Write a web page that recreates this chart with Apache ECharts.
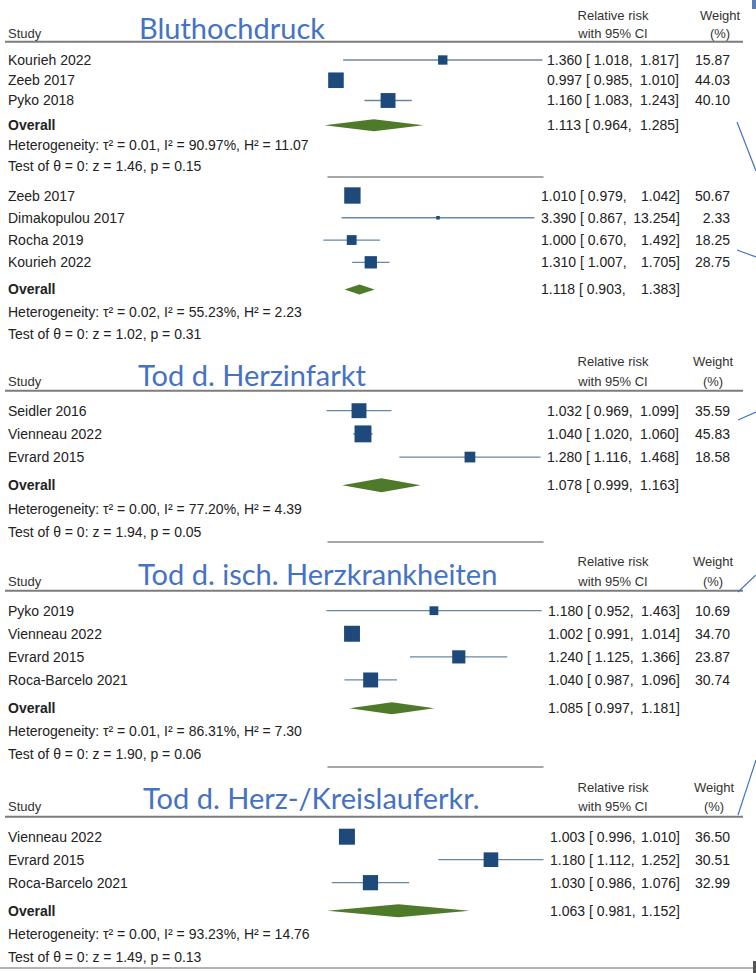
<!DOCTYPE html>
<html>
<head>
<meta charset="utf-8">
<script src="https://cdn.jsdelivr.net/npm/echarts@6/dist/echarts.min.js"></script>
<style>html,body{margin:0;padding:0;background:#fff}#c{width:756px;height:973px}</style>
</head>
<body>
<div id="c"></div>
<script>
// ---------------- DATA ----------------
const panelTitles = ['Bluthochdruck', 'Tod d. Herzinfarkt', 'Tod d. isch. Herzkrankheiten', 'Tod d. Herz-/Kreislauferkr.'];

// Bluthochdruck – first group
const bpAStudies = ['Kourieh 2022', 'Zeeb 2017', 'Pyko 2018'];
const bpARR      = [1.360, 0.997, 1.160];
const bpALow     = [1.018, 0.985, 1.083];
const bpAHigh    = [1.817, 1.010, 1.243];
const bpAWeight  = [15.87, 44.03, 40.10];
const bpAOverall = [1.113, 0.964, 1.285];
const bpAHet     = [0.01, 90.97, 11.07];   // tau², I², H²
const bpATest    = [1.46, 0.15];           // z, p

// Bluthochdruck – second group
const bpBStudies = ['Zeeb 2017', 'Dimakopulou 2017', 'Rocha 2019', 'Kourieh 2022'];
const bpBRR      = [1.010, 3.390, 1.000, 1.310];
const bpBLow     = [0.979, 0.867, 0.670, 1.007];
const bpBHigh    = [1.042, 13.254, 1.492, 1.705];
const bpBWeight  = [50.67, 2.33, 18.25, 28.75];
const bpBOverall = [1.118, 0.903, 1.383];
const bpBHet     = [0.02, 55.23, 2.23];
const bpBTest    = [1.02, 0.31];

// Tod d. Herzinfarkt
const miStudies = ['Seidler 2016', 'Vienneau 2022', 'Evrard 2015'];
const miRR      = [1.032, 1.040, 1.280];
const miLow     = [0.969, 1.020, 1.116];
const miHigh    = [1.099, 1.060, 1.468];
const miWeight  = [35.59, 45.83, 18.58];
const miOverall = [1.078, 0.999, 1.163];
const miHet     = [0.00, 77.20, 4.39];
const miTest    = [1.94, 0.05];

// Tod d. isch. Herzkrankheiten
const ihdStudies = ['Pyko 2019', 'Vienneau 2022', 'Evrard 2015', 'Roca-Barcelo 2021'];
const ihdRR      = [1.180, 1.002, 1.240, 1.040];
const ihdLow     = [0.952, 0.991, 1.125, 0.987];
const ihdHigh    = [1.463, 1.014, 1.366, 1.096];
const ihdWeight  = [10.69, 34.70, 23.87, 30.74];
const ihdOverall = [1.085, 0.997, 1.181];
const ihdHet     = [0.01, 86.31, 7.30];
const ihdTest    = [1.90, 0.06];

// Tod d. Herz-/Kreislauferkr.
const cvdStudies = ['Vienneau 2022', 'Evrard 2015', 'Roca-Barcelo 2021'];
const cvdRR      = [1.003, 1.180, 1.030];
const cvdLow     = [0.996, 1.112, 0.986];
const cvdHigh    = [1.010, 1.252, 1.076];
const cvdWeight  = [36.50, 30.51, 32.99];
const cvdOverall = [1.063, 0.981, 1.152];
const cvdHet     = [0.00, 93.23, 14.76];
const cvdTest    = [1.49, 0.13];

// ---------------- STYLE / LAYOUT ----------------
const TEXT = '#222222', MARK = '#1d4a7b', CI = '#6a87a2', DIAMOND = '#4e7a29', RULE = '#7c7c7c', BLUE = '#4472C4';
const FAM = '"Liberation Sans", Arial, Helvetica, sans-serif';

const panels = [
  { names: bpAStudies, rr: bpARR, lo: bpALow, hi: bpAHigh, w: bpAWeight, ov: bpAOverall, het: bpAHet, test: bpATest,
    L: { top: 60, bottom: 165.7, xMin: 0.9742, xMax: 1.8200, axisY: 177, font: 14, rrLeft: 547, hiRight: 679, wRight: 730, k: 2.35, dh: 12 } },
  { names: bpBStudies, rr: bpBRR, lo: bpBLow, hi: bpBHigh, w: bpBWeight, ov: bpBOverall, het: bpBHet, test: bpBTest,
    L: { top: 195.5, bottom: 334, xMin: 0.7152, xMax: 14.97, axisY: null, font: 14, rrLeft: 541, hiRight: 680, wRight: 730, k: 2.3, dh: 10 } },
  { names: miStudies, rr: miRR, lo: miLow, hi: miHigh, w: miWeight, ov: miOverall, het: miHet, test: miTest,
    L: { top: 410.7, bottom: 531.7, xMin: 0.9717, xMax: 1.4751, axisY: 541.7, font: 14, rrLeft: 547, hiRight: 679, wRight: 730, k: 2.5, dh: 14 } },
  { names: ihdStudies, rr: ihdRR, lo: ihdLow, hi: ihdHigh, w: ihdWeight, ov: ihdOverall, het: ihdHet, test: ihdTest,
    L: { top: 610.7, bottom: 754.3, xMin: 0.9551, xMax: 1.4670, axisY: 767, font: 14, rrLeft: 548, hiRight: 680, wRight: 730, k: 2.7, dh: 12 } },
  { names: cvdStudies, rr: cvdRR, lo: cvdLow, hi: cvdHigh, w: cvdWeight, ov: cvdOverall, het: cvdHet, test: cvdTest,
    L: { top: 836.7, bottom: 956.7, xMin: 0.9818, xMax: 1.2514, axisY: null, font: 14, rrLeft: 550, hiRight: 680, wRight: 730, k: 2.65, dh: 13 } }
];
const OV_GAP = 0.22;
const GRID_LEFT = 328, GRID_RIGHT_EDGE = 543;

const headers = [
  { y1: 15,    y2: 33.3,  rule: 41.7,  wx: 720, title: 27,    tx: 139 },
  { y1: 361.7, y2: 381.7, rule: 390.7, wx: 713, title: 374.5, tx: 138 },
  { y1: 561.7, y2: 581.7, rule: 590.7, wx: 713, title: 573,   tx: 138 },
  { y1: 787.3, y2: 806.7, rule: 816.7, wx: 714, title: 797,   tx: 143 }
];

function hetText(h) { return 'Heterogeneity: \u03c4\u00b2 = ' + h[0].toFixed(2) + ', I\u00b2 = ' + h[1].toFixed(2) + '%, H\u00b2 = ' + h[2].toFixed(2); }
function testText(t) { return 'Test of \u03b8 = 0: z = ' + t[0].toFixed(2) + ', p = ' + t[1].toFixed(2); }

function makeRender(p) {
  const L = p.L;
  const txt = (x, y, s, align, bold) => ({
    type: 'text',
    style: { x: x, y: y, text: s, fill: TEXT, fontSize: L.font, fontFamily: FAM, fontWeight: bold ? 'bold' : 'normal', align: align, verticalAlign: 'middle' }
  });
  return function (params, api) {
    const i = params.dataIndex;
    const rr = api.value(0), lo = api.value(1), hi = api.value(2), row = api.value(3);
    const isOverall = i === p.names.length;
    const c = api.coord([rr, row]);
    const y = c[1];
    const xl = api.coord([lo, row])[0];
    const xh = api.coord([hi, row])[0];
    const kids = [];
    if (!isOverall) {
      kids.push({ type: 'line', shape: { x1: xl, y1: y, x2: xh, y2: y }, style: { stroke: CI, lineWidth: 1.3 } });
      const s = L.k * Math.sqrt(p.w[i]);
      kids.push({ type: 'rect', shape: { x: c[0] - s / 2, y: y - s / 2, width: s, height: s }, style: { fill: MARK } });
      kids.push(txt(8, y, p.names[i], 'left', false));
      kids.push(txt(L.wRight, y, p.w[i].toFixed(2), 'right', false));
    } else {
      const h = L.dh / 2;
      kids.push({ type: 'polygon', shape: { points: [[xl, y], [c[0], y - h], [xh, y], [c[0], y + h]] }, style: { fill: DIAMOND } });
      kids.push(txt(8, y, 'Overall', 'left', true));
      const yh = api.coord([rr, row + 1])[1];
      const yt = api.coord([rr, row + 2])[1];
      kids.push(txt(8, yh, hetText(p.het), 'left', false));
      kids.push(txt(8, yt, testText(p.test), 'left', false));
    }
    kids.push(txt(L.rrLeft, y, rr.toFixed(3) + ' [ ' + lo.toFixed(3) + ',', 'left', false));
    kids.push(txt(L.hiRight, y, hi.toFixed(3) + ']', 'right', false));
    return { type: 'group', children: kids };
  };
}

const grids = [], xAxes = [], yAxes = [], series = [];
panels.forEach((p, gi) => {
  const L = p.L;
  const n = p.names.length;
  grids.push({ left: GRID_LEFT, width: GRID_RIGHT_EDGE - GRID_LEFT, top: L.top, height: L.bottom - L.top, outerBoundsMode: 'none', containLabel: false });
  xAxes.push({
    gridIndex: gi, type: 'log', logBase: 10, min: L.xMin, max: L.xMax, position: 'bottom',
    offset: L.axisY ? L.axisY - L.bottom : 0,
    axisLine: { show: !!L.axisY, onZero: false, lineStyle: { color: '#8a8a8a', width: 1.5 } },
    axisTick: { show: false }, axisLabel: { show: false }, splitLine: { show: false }
  });
  yAxes.push({ gridIndex: gi, type: 'value', inverse: true, min: 0, max: n + 2 + OV_GAP, show: false });
  const data = p.names.map((nm, i) => [p.rr[i], p.lo[i], p.hi[i], i]);
  data.push([p.ov[0], p.ov[1], p.ov[2], n + OV_GAP]);
  series.push({
    type: 'custom', xAxisIndex: gi, yAxisIndex: gi, clip: false, silent: true,
    encode: { x: [0, 1, 2], y: 3 }, renderItem: makeRender(p), data: data, animation: false
  });
});

const graphics = [];
const hStyle = (t, align) => ({ text: t, fontSize: 13, fontFamily: FAM, fill: '#333', align: align, verticalAlign: 'middle' });
headers.forEach((h, i) => {
  graphics.push({ type: 'text', x: 8, y: h.y2, style: hStyle('Study', 'left') });
  graphics.push({ type: 'text', x: 613, y: h.y1, style: hStyle('Relative risk', 'center') });
  graphics.push({ type: 'text', x: 613, y: h.y2, style: hStyle('with 95% CI', 'center') });
  graphics.push({ type: 'text', x: h.wx, y: h.y1, style: hStyle('Weight', 'center') });
  graphics.push({ type: 'text', x: h.wx, y: h.y2, style: hStyle('(%)', 'center') });
  graphics.push({ type: 'line', shape: { x1: 5, y1: h.rule, x2: 743, y2: h.rule }, style: { stroke: RULE, lineWidth: 2 } });
  graphics.push({ type: 'text', x: h.tx, y: h.title, z: 10, style: { text: panelTitles[i], fontSize: 29, fontFamily: 'Lato, "Open Sans", sans-serif', fill: BLUE, align: 'left', verticalAlign: 'middle' } });
});
// bottom full-width rule
graphics.push({ type: 'line', shape: { x1: 0, y1: 968, x2: 756, y2: 968 }, style: { stroke: '#9a9a9a', lineWidth: 1.5 } });
// slide connector lines at the right edge
[[737, 122, 756, 171], [737, 250, 756, 257], [738, 420, 756, 412], [738, 592, 756, 575], [738, 815, 756, 760]].forEach(s => {
  graphics.push({ type: 'line', shape: { x1: s[0], y1: s[1], x2: s[2], y2: s[3] }, style: { stroke: BLUE, lineWidth: 1.2 } });
});
graphics.push({ type: 'rect', shape: { x: 752, y: 0, width: 4, height: 9 }, style: { fill: '#5a7fb8' } });
graphics.push({ type: 'rect', shape: { x: 753, y: 961, width: 3, height: 12 }, style: { fill: '#555' } });

const chart = echarts.init(document.getElementById('c'), null, { renderer: 'svg' });
chart.setOption({
  backgroundColor: '#ffffff',
  animation: false,
  grid: grids,
  xAxis: xAxes,
  yAxis: yAxes,
  series: series,
  graphic: { elements: graphics }
});
</script>
</body>
</html>
